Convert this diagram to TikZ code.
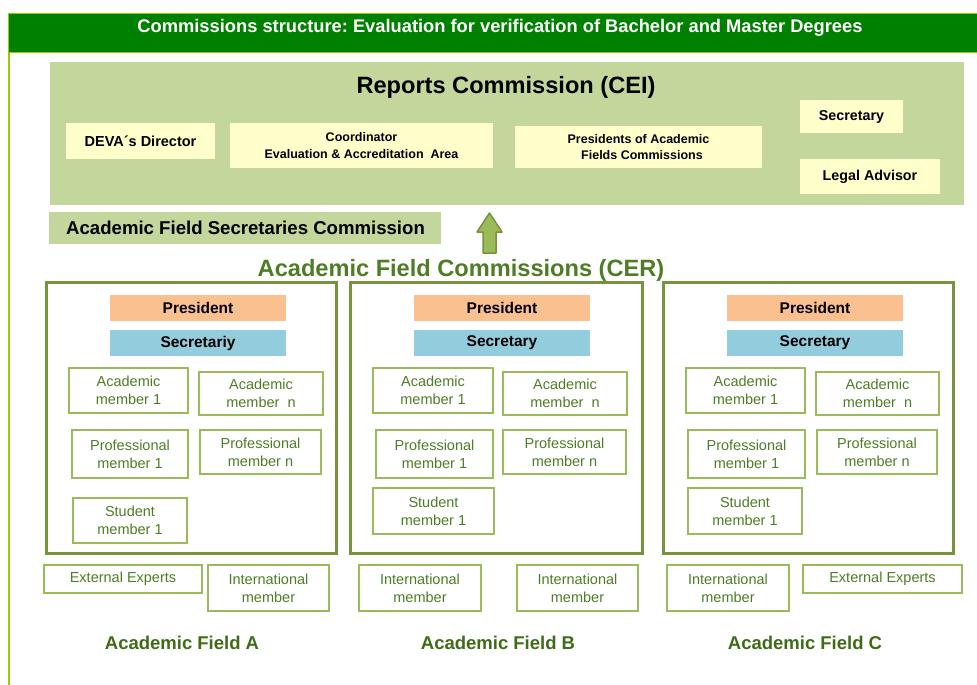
\documentclass[tikz,border=0pt]{standalone}
\usepackage{fontspec}
\setmainfont{Liberation Sans}
\frenchspacing
\definecolor{hdrfill}{HTML}{008000}
\definecolor{hdrline}{HTML}{99CC00}
\definecolor{ceifill}{HTML}{C3D69B}
\definecolor{yelc}{HTML}{FFFFCC}
\definecolor{presc}{HTML}{FAC090}
\definecolor{secc}{HTML}{93CDDD}
\definecolor{fieldc}{HTML}{77933C}
\definecolor{memline}{HTML}{9BBB59}
\definecolor{memtext}{RGB}{79,125,38}
\definecolor{cergreen}{RGB}{79,125,38}
\definecolor{labgreen}{RGB}{63,108,22}
\definecolor{arrowfill}{HTML}{9BBB59}
% \mybox{style}{name}{x1}{y1}{x2}{y2}{text}
\newcommand\mybox[7]{\node[#1, minimum width={#5-#3}, minimum height={#6-#4}] (#2) at ({(#3+#5)/2},{(#4+#6)/2}) {#7};}
\tikzset{
  yelbox/.style={fill=yelc, inner sep=0pt, align=center},
  membox/.style={draw=memline, line width=1.3pt, fill=white, inner sep=0pt, text=memtext, align=center, font=\fontsize{14.5}{18}\selectfont},
  presbox/.style={fill=presc, inner sep=0pt, font=\bfseries\fontsize{15.5}{18}\selectfont},
  secbox/.style={fill=secc, inner sep=0pt, font=\bfseries\fontsize{15.5}{18}\selectfont},
  fieldbox/.style={draw=fieldc, line width=3pt, inner sep=0pt},
  fieldlabel/.style={text=labgreen, font=\bfseries\fontsize{18.5}{22}\selectfont},
  greenpanel/.style={fill=ceifill, inner sep=0pt},
}
\begin{document}
\begin{tikzpicture}[x=1pt,y=-1pt]
\useasboundingbox[fill=white] (0,0) rectangle (977,685);
% frame and header
\draw[hdrline, line width=2pt] (8.5,13) -- (8.5,685);
\mybox{draw=hdrline, fill=hdrfill, line width=1.5pt, inner sep=0pt}{hdr}{8.5}{13.5}{980}{52.5}{}
\node[text=white, font=\bfseries\fontsize{18.3}{21}\selectfont] (title) at (500,28) {Commissions structure: Evaluation for verification of Bachelor and Master Degrees};
% Reports commission
\mybox{greenpanel}{cei}{50}{62}{964}{205}{}
\node[font=\bfseries\fontsize{23.6}{28}\selectfont] (ceititle) at (506,87) {Reports Commission (CEI)};
\mybox{yelbox, font=\bfseries\fontsize{14.5}{17}\selectfont}{deva}{66}{123}{215}{159}{DEVA\textasciiacute s Director}
\mybox{yelbox, font=\bfseries\fontsize{12.5}{17}\selectfont}{coord}{230}{123}{493}{168}{Coordinator\\Evaluation \& Accreditation\ \ Area}
\mybox{yelbox, font=\bfseries\fontsize{12.5}{16}\selectfont}{pres}{515}{126}{762}{168}{Presidents of Academic\\\ \ Fields Commissions}
\mybox{yelbox, font=\bfseries\fontsize{14.3}{17}\selectfont}{csec}{800}{100}{903}{133}{Secretary}
\mybox{yelbox, font=\bfseries\fontsize{14.3}{17}\selectfont}{legal}{800}{159}{940}{194}{Legal Advisor}
% secretaries commission
\mybox{greenpanel}{afsc}{49}{212}{441}{244}{}
\node[anchor=west, inner sep=0pt, font=\bfseries\fontsize{18.6}{22}\selectfont] (afsctext) at (66,228) {Academic Field Secretaries Commission};
% block arrow
\filldraw[fill=arrowfill, draw=fieldc, line width=1.5pt, line join=round]
  (483,253) -- (483,232) -- (477,232) -- (489.5,213) -- (502,232) -- (496,232) -- (496,253) -- cycle;
% CER title
\node[text=cergreen, font=\bfseries\fontsize{23.6}{28}\selectfont] (cer) at (461,270) {Academic Field Commissions (CER)};
% ---------- Field A ----------
\mybox{fieldbox}{fA}{46}{282}{336}{553}{}
\mybox{presbox}{presA}{110}{295}{286}{321}{President}
\mybox{secbox}{secA}{110}{330}{286}{356}{Secretariy}
\mybox{membox}{a1A}{69}{368}{188}{413}{Academic\\member 1}
\mybox{membox}{anA}{199}{372}{323}{415}{Academic\\member\ \ n}
\mybox{membox}{p1A}{72}{430}{188}{478}{Professional\\member 1}
\mybox{membox}{pnA}{200}{430}{321}{474}{Professional\\member n}
\mybox{membox}{s1A}{73}{498}{187}{543}{Student\\member 1}
\mybox{membox}{eA}{44}{565}{202}{593}{External Experts}
\mybox{membox}{iA}{208}{565}{329}{611}{International\\member}
\node[fieldlabel] (labA) at (182,643) {Academic Field A};
% ---------- Field B ----------
\mybox{fieldbox}{fB}{350}{282}{642}{553}{}
\mybox{presbox}{presB}{414}{295}{590}{321}{President}
\mybox{secbox}{secB}{414}{330}{590}{356}{Secretary}
\mybox{membox}{a1B}{373}{368}{493}{413}{Academic\\member 1}
\mybox{membox}{anB}{503}{372}{627}{415}{Academic\\member\ \ n}
\mybox{membox}{p1B}{376}{430}{493}{478}{Professional\\member 1}
\mybox{membox}{pnB}{503}{430}{626}{474}{Professional\\member n}
\mybox{membox}{s1B}{373}{488}{494}{534}{Student\\member 1}
\mybox{membox}{iB1}{359}{565}{481}{611}{International\\member}
\mybox{membox}{iB2}{517}{565}{638}{611}{International\\member}
\node[fieldlabel] (labB) at (498,643) {Academic Field B};
% ---------- Field C ----------
\mybox{fieldbox}{fC}{663}{282}{953}{553}{}
\mybox{presbox}{presC}{727}{295}{903}{321}{President}
\mybox{secbox}{secC}{727}{330}{903}{356}{Secretary}
\mybox{membox}{a1C}{686}{368}{805}{413}{Academic\\member 1}
\mybox{membox}{anC}{816}{372}{939}{415}{Academic\\member\ \ n}
\mybox{membox}{p1C}{688}{430}{805}{478}{Professional\\member 1}
\mybox{membox}{pnC}{817}{430}{937}{474}{Professional\\member n}
\mybox{membox}{s1C}{688}{488}{802}{534}{Student\\member 1}
\mybox{membox}{iC}{667}{565}{789}{611}{International\\member}
\mybox{membox}{eC}{803}{565}{962}{593}{External Experts}
\node[fieldlabel] (labC) at (805,643) {Academic Field C};
\end{tikzpicture}
\end{document}
